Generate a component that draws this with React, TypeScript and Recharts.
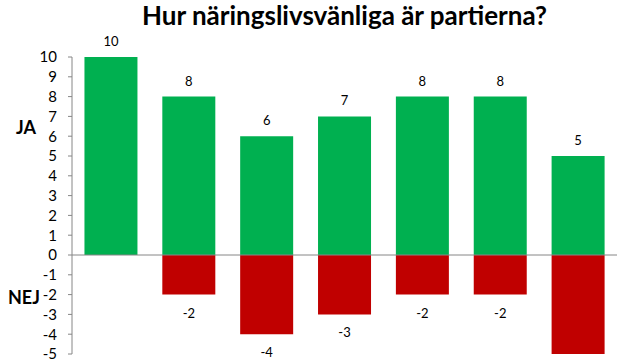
import React from "react";
import {
  BarChart,
  Bar,
  XAxis,
  YAxis,
  ReferenceLine,
  LabelList,
} from "recharts";

const parties = ["1", "2", "3", "4", "5", "6", "7"];
const jaValues = [10, 8, 6, 7, 8, 8, 5];
const nejValues = [0, -2, -4, -3, -2, -2, -5];
const yTicks = [-5, -4, -3, -2, -1, 0, 1, 2, 3, 4, 5, 6, 7, 8, 9, 10];

const data = parties.map((p, i) => ({ parti: p, ja: jaValues[i], nej: nejValues[i] }));

const font = "Lato, 'Open Sans', sans-serif";

// label under the red bar, skipped when the value is 0
const NejLabel = (props: any) => {
  const { x, y, width, height, value } = props;
  if (!value) return null;
  const bottom = Math.max(Number(y), Number(y) + Number(height));
  return (
    <text
      x={Number(x) + Number(width) / 2}
      y={bottom + 18}
      textAnchor="middle"
      dominantBaseline="central"
      fill="#000"
      fontSize={13}
      fontFamily={font}
    >
      {value}
    </text>
  );
};

export default function App() {
  return (
    <div style={{ position: "absolute", left: 0, top: 0, width: 639, height: 359, background: "#fff", fontFamily: font }}>
      <div
        style={{
          position: "absolute",
          left: 72,
          width: 545,
          top: -1,
          textAlign: "center",
          fontWeight: 700,
          fontSize: 26,
          lineHeight: "32px",
          color: "#000",
        }}
      >
        Hur näringslivsvänliga är partierna?
      </div>
      <div style={{ position: "absolute", left: 16, top: 116, fontWeight: 700, fontSize: 18, color: "#000" }}>JA</div>
      <div style={{ position: "absolute", left: 8, top: 286, fontWeight: 700, fontSize: 18, color: "#000" }}>NEJ</div>
      <BarChart
        width={639}
        height={359}
        data={data}
        stackOffset="sign"
        margin={{ top: 57, right: 22, bottom: 5, left: 0 }}
        barCategoryGap="16%"
        style={{ position: "absolute", left: 0, top: 0 }}
      >
        <XAxis dataKey="parti" hide />
        <YAxis
          type="number"
          domain={[-5, 10]}
          ticks={yTicks}
          interval={0}
          width={72}
          tickSize={4}
          tickMargin={11}
          axisLine={{ stroke: "#868686" }}
          tickLine={{ stroke: "#868686" }}
          tick={{ fill: "#000", fontSize: 15, fontFamily: font }}
        />
        <Bar dataKey="ja" stackId="a" fill="#00B050" isAnimationActive={false}>
          <LabelList dataKey="ja" position="top" offset={11} fill="#000" fontSize={13} fontFamily={font} />
        </Bar>
        <Bar dataKey="nej" stackId="a" fill="#C00000" isAnimationActive={false}>
          <LabelList dataKey="nej" content={NejLabel} />
        </Bar>
        <ReferenceLine y={0} stroke="#868686" strokeWidth={1} />
      </BarChart>
    </div>
  );
}
